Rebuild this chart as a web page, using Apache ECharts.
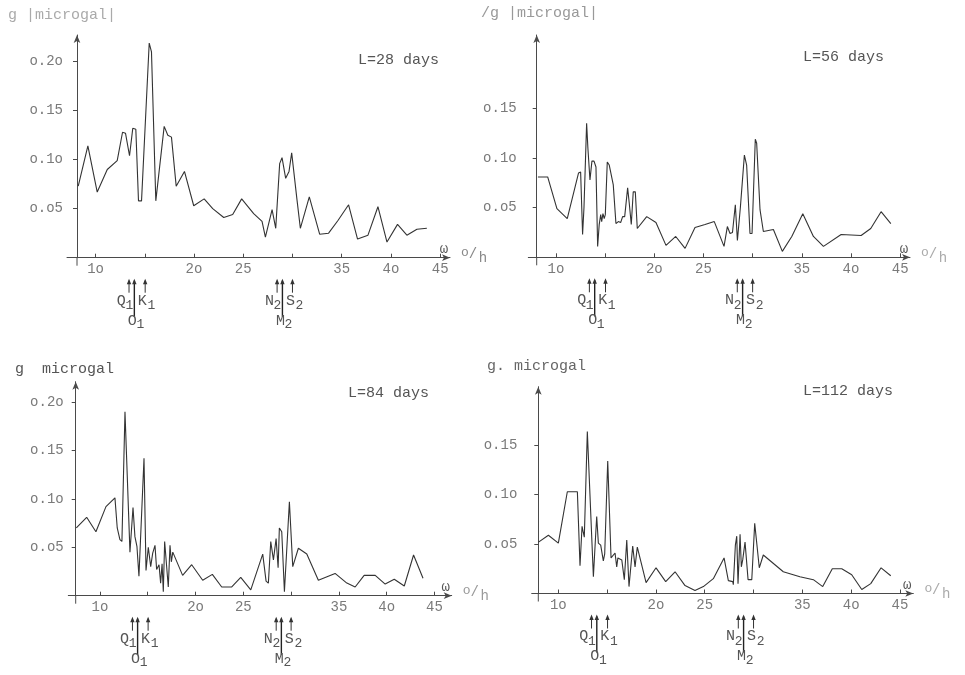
<!DOCTYPE html>
<html><head><meta charset="utf-8">
<script src="https://cdn.jsdelivr.net/npm/echarts@6/dist/echarts.min.js"></script>
<style>html,body{margin:0;padding:0;background:#fff}#c{width:965px;height:675px}</style>
</head><body><div id="c"></div>
<script>
// ---------------- data ----------------
const panelTitles = ['L=28 days', 'L=56 days', 'L=84 days', 'L=112 days'];
const yTitles = ['g |microgal|', '/g |microgal|', 'g  microgal', 'g. microgal'];

const x28 = [8.24, 9.22, 10.17, 11.19, 12.2, 12.74, 13.04, 13.45, 13.78, 14.09, 14.36, 14.67, 15.45, 15.68, 16.12, 16.97, 17.34, 17.71, 18.19, 19.03, 19.97, 21.03, 21.9, 23.02, 23.93, 24.84, 26.06, 26.91, 27.25, 27.42, 27.93, 28.3, 28.7, 28.94, 29.31, 29.65, 29.92, 30.12, 30.46, 30.8, 31.71, 32.76, 33.67, 34.62, 35.7, 36.61, 37.67, 38.68, 39.6, 40.67, 41.62, 42.64, 43.65];
const y28 = [0.073, 0.114, 0.067, 0.090, 0.099, 0.128, 0.127, 0.104, 0.132, 0.131, 0.058, 0.058, 0.219, 0.210, 0.058, 0.134, 0.125, 0.123, 0.073, 0.088, 0.053, 0.060, 0.050, 0.041, 0.044, 0.060, 0.045, 0.037, 0.021, 0.021, 0.049, 0.030, 0.096, 0.102, 0.081, 0.088, 0.107, 0.105, 0.059, 0.030, 0.062, 0.024, 0.025, 0.038, 0.054, 0.019, 0.023, 0.052, 0.016, 0.034, 0.023, 0.029, 0.030];

const x56 = [8.17, 9.16, 10.1, 11.15, 12.3, 12.51, 12.71, 12.85, 13.12, 13.25, 13.46, 13.66, 13.87, 14.07, 14.24, 14.4, 14.55, 14.65, 14.78, 14.91, 15.02, 15.22, 15.42, 15.83, 16.1, 16.34, 16.58, 16.78, 16.99, 17.29, 17.45, 17.66, 17.86, 18.07, 18.27, 19.23, 20.17, 21.19, 22.18, 23.13, 24.14, 25.16, 26.1, 27.09, 27.43, 27.7, 27.95, 28.24, 28.45, 28.75, 29.16, 29.39, 29.73, 29.94, 30.27, 30.41, 30.75, 31.09, 32.11, 33.02, 33.98, 35.1, 36.18, 37.2, 39.0, 41.03, 42.01, 43.06, 44.05];
const y56 = [0.081, 0.081, 0.049, 0.039, 0.085, 0.086, 0.023, 0.050, 0.135, 0.110, 0.078, 0.097, 0.097, 0.091, 0.011, 0.033, 0.043, 0.036, 0.044, 0.039, 0.043, 0.096, 0.093, 0.073, 0.034, 0.036, 0.035, 0.041, 0.041, 0.070, 0.055, 0.033, 0.066, 0.066, 0.029, 0.041, 0.035, 0.012, 0.021, 0.009, 0.030, 0.033, 0.036, 0.011, 0.031, 0.024, 0.025, 0.053, 0.017, 0.050, 0.103, 0.093, 0.024, 0.024, 0.119, 0.115, 0.048, 0.026, 0.028, 0.006, 0.021, 0.044, 0.021, 0.011, 0.023, 0.022, 0.029, 0.046, 0.034];

const x84 = [7.53, 8.61, 9.58, 10.63, 11.57, 11.81, 12.09, 12.3, 12.62, 12.72, 13.14, 13.28, 13.46, 13.66, 13.87, 14.08, 14.26, 14.61, 14.82, 15.06, 15.31, 15.52, 15.76, 15.93, 16.18, 16.35, 16.5, 16.63, 16.77, 17.15, 17.33, 17.47, 17.62, 17.75, 18.65, 19.6, 20.75, 21.76, 22.74, 23.79, 24.73, 25.78, 27.03, 27.38, 27.62, 27.87, 28.15, 28.43, 28.64, 28.77, 29.02, 29.3, 29.82, 30.17, 30.76, 31.64, 32.85, 34.6, 35.83, 36.7, 37.64, 38.8, 39.84, 40.79, 41.84, 42.81, 43.8];
const y84 = [0.070, 0.081, 0.066, 0.092, 0.101, 0.070, 0.058, 0.056, 0.190, 0.188, 0.045, 0.044, 0.091, 0.061, 0.051, 0.020, 0.020, 0.142, 0.026, 0.050, 0.030, 0.044, 0.052, 0.027, 0.032, 0.013, 0.033, 0.004, 0.056, 0.009, 0.052, 0.035, 0.045, 0.043, 0.021, 0.032, 0.016, 0.022, 0.009, 0.009, 0.019, 0.006, 0.043, 0.015, 0.013, 0.056, 0.037, 0.059, 0.029, 0.070, 0.066, 0.004, 0.097, 0.030, 0.049, 0.043, 0.016, 0.023, 0.013, 0.009, 0.021, 0.021, 0.012, 0.017, 0.010, 0.042, 0.018];

const x112 = [7.97, 8.98, 10.0, 10.92, 11.95, 12.22, 12.43, 12.55, 12.66, 12.97, 13.59, 13.8, 13.93, 14.1, 14.34, 14.61, 14.75, 15.06, 15.4, 15.6, 15.81, 15.98, 16.1, 16.25, 16.5, 16.76, 17.01, 17.24, 17.62, 17.86, 18.09, 18.99, 20.01, 21.0, 21.96, 22.98, 24.0, 24.86, 25.88, 26.98, 27.42, 27.87, 27.93, 28.14, 28.28, 28.41, 28.62, 28.75, 28.89, 29.13, 29.3, 29.44, 29.82, 30.12, 30.59, 31.0, 33.05, 34.75, 36.13, 37.09, 38.07, 39.04, 40.06, 41.09, 42.01, 43.07, 44.06];
const y112 = [0.052, 0.059, 0.051, 0.103, 0.103, 0.028, 0.068, 0.062, 0.057, 0.164, 0.017, 0.055, 0.078, 0.051, 0.049, 0.033, 0.040, 0.134, 0.036, 0.037, 0.041, 0.027, 0.036, 0.035, 0.034, 0.014, 0.054, 0.007, 0.048, 0.027, 0.047, 0.011, 0.026, 0.012, 0.022, 0.008, 0.003, 0.007, 0.015, 0.036, 0.013, 0.012, 0.009, 0.049, 0.058, 0.010, 0.060, 0.027, 0.034, 0.052, 0.053, 0.014, 0.014, 0.071, 0.026, 0.039, 0.022, 0.017, 0.014, 0.007, 0.025, 0.025, 0.019, 0.004, 0.010, 0.026, 0.018];

const xTickValues = [10, 15, 20, 25, 30, 35, 40, 45];
const xLabelValues = [10, 20, 25, 35, 40, 45];
const yLabelValues4 = [0.05, 0.10, 0.15, 0.20];
const yLabelValues3 = [0.05, 0.10, 0.15];

// tidal constituents (deg/h)
const diurnalNames = ['Q', 'O', 'K'];
const diurnalFreq = [13.40, 13.94, 15.04];
const semidiurnalNames = ['N', 'M', 'S'];
const semidiurnalFreq = [28.44, 28.98, 30.00];

// ---------------- layout ----------------
const series = [[x28, y28], [x56, y56], [x84, y84], [x112, y112]];
const yLabelSets = [yLabelValues4, yLabelValues3, yLabelValues4, yLabelValues3];
const layout = [
  {left: 67, top: 35, width: 383, height: 222.7, xmin: 7.10, xmax: 46.0, ymax: 0.2272, yOff: -10, yMargin: 14,
   title: [358, 60], ytitle: [8, 15, '#aaa'], unitColor: '#888'},
  {left: 528.3, top: 35, width: 381.7, height: 222.3, xmin: 7.19, xmax: 46.0, ymax: 0.2241, yOff: -8.4, yMargin: 20,
   title: [803, 57], ytitle: [481, 13, '#999'], unitColor: '#aaa'},
  {left: 68.3, top: 381.7, width: 383.4, height: 214, xmin: 6.69, xmax: 46.8, ymax: 0.221, yOff: -7.4, yMargin: 12,
   title: [348, 393], ytitle: [15, 369, '#555'], unitColor: '#999'},
  {left: 531.7, top: 386.7, width: 381.6, height: 206.8, xmin: 7.27, xmax: 46.37, ymax: 0.2093, yOff: -6.6, yMargin: 21,
   title: [803, 391], ytitle: [487, 366, '#666'], unitColor: '#aaa'}
];

const FONT = '"Liberation Mono", "DejaVu Sans Mono", monospace';
const AXIS = '#4a4a4a';
const LABEL = '#7a7a7a';
const zeroToO = s => s.replace(/0/g, 'o');

const chart = echarts.init(document.getElementById('c'), null, {renderer: 'canvas'});

const option = {
  backgroundColor: '#fff',
  animation: false,
  grid: layout.map(L => ({left: L.left, top: L.top, width: L.width, height: L.height, containLabel: false})),
  xAxis: layout.map((L, i) => ({
    type: 'value', gridIndex: i, min: L.xmin, max: L.xmax,
    axisLine: {show: true, symbol: ['none', 'arrow'], symbolSize: [5, 8], lineStyle: {color: AXIS, width: 1}},
    axisTick: {show: true, inside: true, length: 4, customValues: xTickValues, lineStyle: {color: AXIS}},
    axisLabel: {show: true, customValues: xLabelValues, margin: 5, color: LABEL, fontFamily: FONT, fontSize: 14,
      formatter: v => zeroToO(String(Math.round(v)))},
    splitLine: {show: false}
  })),
  yAxis: layout.map((L, i) => ({
    type: 'value', gridIndex: i, min: 0, max: L.ymax, offset: L.yOff,
    axisLine: {show: true, onZero: false, symbol: ['none', 'arrow'], symbolSize: [5, 8], lineStyle: {color: AXIS, width: 1}},
    axisTick: {show: true, length: 4, customValues: yLabelSets[i], lineStyle: {color: AXIS}},
    axisLabel: {show: true, customValues: yLabelSets[i], margin: L.yMargin, color: LABEL, fontFamily: FONT, fontSize: 14,
      formatter: v => zeroToO(v.toFixed(2))},
    splitLine: {show: false}
  })),
  series: series.map((s, i) => ({
    type: 'line', xAxisIndex: i, yAxisIndex: i, showSymbol: false, symbol: 'none',
    lineStyle: {color: '#333', width: 1.1},
    data: s[0].map((v, k) => [v, s[1][k]])
  }))
};
chart.setOption(option);

function txt(x, y, text, size, color, align) {
  return {type: 'text', silent: true, style: {
    x: x, y: y, text: text, fill: color, font: size + 'px ' + FONT,
    align: align || 'center', verticalAlign: 'middle',
    textAlign: align || 'center', textVerticalAlign: 'middle'}};
}
function line(x1, y1, x2, y2, color, w) {
  return {type: 'line', silent: true, shape: {x1: x1, y1: y1, x2: x2, y2: y2},
    style: {stroke: color || AXIS, lineWidth: w || 1}};
}
function arrowHead(x, y) {
  return {type: 'polygon', silent: true, shape: {points: [[x - 2.2, y + 5.5], [x, y], [x + 2.2, y + 5.5]]},
    style: {fill: '#333'}};
}

function buildGraphics() {
  const g = [];
  layout.forEach((L, i) => {
    const axisY = chart.convertToPixel({gridIndex: i}, [L.xmin, 0])[1];
    const xEnd = chart.convertToPixel({gridIndex: i}, [L.xmax, 0])[0];
    const yAxisX = L.left - L.yOff;
    // y axis stub below x axis
    g.push(line(yAxisX, axisY, yAxisX, axisY + 8, AXIS, 1));
    // panel title
    g.push(txt(L.title[0], L.title[1], panelTitles[i], 15, '#555', 'left'));
    // y title
    g.push(txt(L.ytitle[0], L.ytitle[1], yTitles[i], 15, L.ytitle[2], 'left'));
    // omega and unit
    g.push(txt(xEnd - 6, axisY - 8, '\u03c9', 14, '#555'));
    g.push(txt(xEnd + 15, axisY - 5, 'o', 13, L.unitColor));
    g.push(txt(xEnd + 23, axisY - 3, '/', 14, L.unitColor));
    g.push(txt(xEnd + 33, axisY + 1, 'h', 14, L.unitColor));
    // constituent markers
    [[diurnalNames, diurnalFreq, '1'], [semidiurnalNames, semidiurnalFreq, '2']].forEach(grp => {
      const names = grp[0], freqs = grp[1], sub = grp[2];
      const px = freqs.map(f => chart.convertToPixel({gridIndex: i}, [f, 0])[0]);
      const top = axisY + 21;
      // short arrows (left and right)
      [0, 2].forEach(k => {
        g.push(line(px[k], top + 2, px[k], top + 14, '#333', 1));
        g.push(arrowHead(px[k], top));
      });
      // long middle line
      g.push(line(px[1], top + 2, px[1], top + 38, '#222', 1.4));
      g.push(arrowHead(px[1], top));
      const c = px[1];
      // left label
      g.push(txt(c - 13, top + 22, names[0], 15, '#555'));
      g.push(txt(c - 5, top + 27, sub, 13, '#555'));
      // right label
      g.push(txt(c + 8, top + 22, names[2], 15, '#555'));
      g.push(txt(c + 17, top + 27, sub, 13, '#555'));
      // bottom label
      g.push(txt(c - 2, top + 42, names[1], 15, '#555'));
      g.push(txt(c + 6, top + 46, sub, 13, '#555'));
    });
  });
  return g;
}
chart.setOption({graphic: buildGraphics()});
</script>
</body></html>
